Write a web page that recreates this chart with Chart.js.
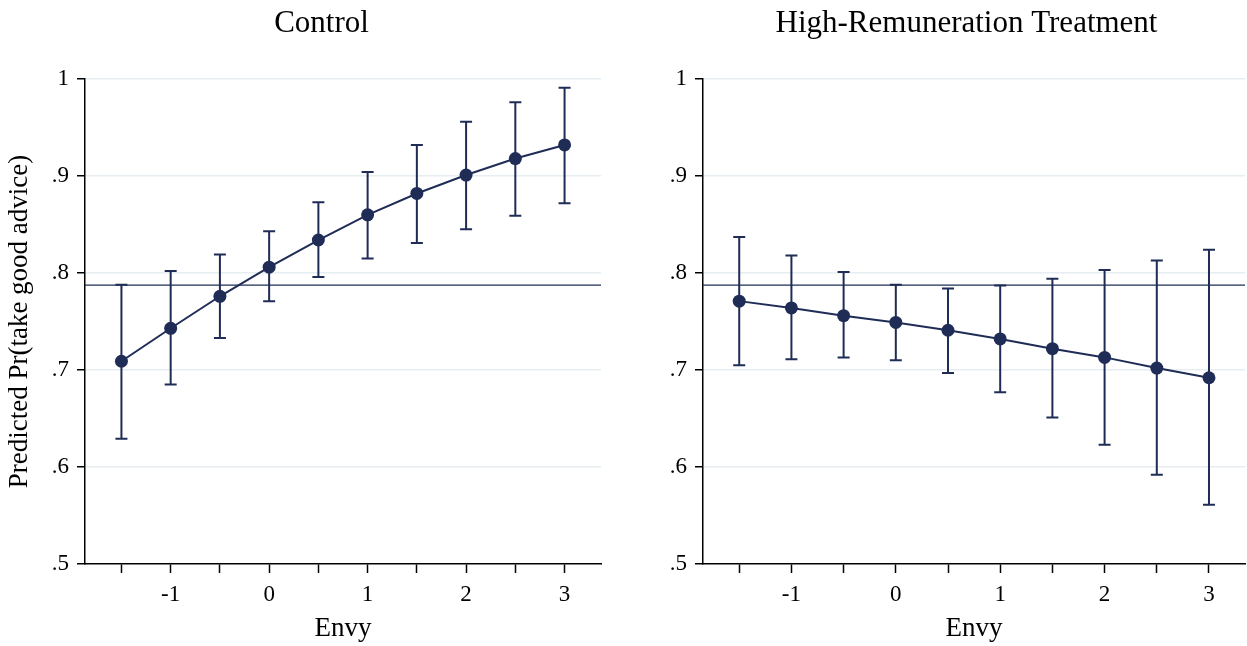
<!DOCTYPE html>
<html>
<head>
<meta charset="utf-8">
<script src="https://cdn.jsdelivr.net/npm/chart.js@4"></script>
<style>
  html, body { margin: 0; padding: 0; background: #fff; overflow: hidden; }
  canvas { position: absolute; top: 0; }
  #controlChart { left: 0; }
  #highChart { left: 640px; }
</style>
</head>
<body>
<canvas id="controlChart" width="643" height="646"></canvas>
<canvas id="highChart" width="653" height="646"></canvas>
<script>
// Envy values (x) shared by both panels
const envy = [-1.5, -1, -0.5, 0, 0.5, 1, 1.5, 2, 2.5, 3];
const xTickValues = [-1.5, -1, -0.5, 0, 0.5, 1, 1.5, 2, 2.5, 3];
const yTickValues = [0.5, 0.6, 0.7, 0.8, 0.9, 1];

// Control panel
const controlPred = [0.709, 0.743, 0.776, 0.806, 0.834, 0.860, 0.882, 0.901, 0.918, 0.932];
const controlLo = [0.629, 0.685, 0.733, 0.771, 0.796, 0.815, 0.831, 0.845, 0.859, 0.872];
const controlHi = [0.788, 0.802, 0.819, 0.843, 0.873, 0.904, 0.932, 0.956, 0.976, 0.991];

// High-remuneration panel
const highPred = [0.771, 0.764, 0.756, 0.749, 0.741, 0.732, 0.722, 0.713, 0.702, 0.692];
const highLo = [0.705, 0.711, 0.713, 0.710, 0.697, 0.677, 0.651, 0.623, 0.592, 0.561];
const highHi = [0.837, 0.818, 0.801, 0.788, 0.784, 0.787, 0.794, 0.803, 0.813, 0.824];

// overall average (horizontal line)
const avgLevel = 0.7875;

const navy = "#1f2c56";
const gridColor = "#e6eef1";
const serif = "'Liberation Serif', 'Times New Roman', serif";

Chart.defaults.font.family = serif;
Chart.defaults.color = "#000";

// draws the CI whiskers with caps, under the markers
const errorBars = {
  id: "errorBars",
  beforeDatasetsDraw(chart, args, opts) {
    const { ctx } = chart;
    const x = chart.scales.x;
    const y = chart.scales.y;
    ctx.save();
    ctx.strokeStyle = opts.color;
    ctx.lineWidth = opts.width;
    opts.xs.forEach((xv, i) => {
      const px = x.getPixelForValue(xv);
      const top = y.getPixelForValue(opts.hi[i]);
      const bot = y.getPixelForValue(opts.lo[i]);
      ctx.beginPath();
      ctx.moveTo(px, top);
      ctx.lineTo(px, bot);
      ctx.moveTo(px - opts.cap, top);
      ctx.lineTo(px + opts.cap, top);
      ctx.moveTo(px - opts.cap, bot);
      ctx.lineTo(px + opts.cap, bot);
      ctx.stroke();
    });
    ctx.restore();
  },
};

function makeConfig(title, pred, lo, hi, xMin, xMax, yWidth, rightGap, showYTitle) {
  return {
    type: "line",
    data: {
      datasets: [
        {
          data: envy.map((v, i) => ({ x: v, y: pred[i] })),
          borderColor: navy,
          borderWidth: 2,
          pointRadius: 6.5,
          pointBackgroundColor: navy,
          pointBorderWidth: 0,
          tension: 0,
        },
        {
          data: [
            { x: xMin, y: avgLevel },
            { x: xMax, y: avgLevel },
          ],
          borderColor: navy,
          borderWidth: 1.2,
          pointRadius: 0,
        },
      ],
    },
    options: {
      responsive: false,
      animation: false,
      layout: { padding: 0 },
      plugins: {
        legend: { display: false },
        tooltip: { enabled: false },
        title: {
          display: true,
          text: title,
          color: "#000",
          font: { family: serif, size: 31, weight: "normal" },
          padding: { top: 5, bottom: 36.8 },
        },
        errorBars: { xs: envy, lo: lo, hi: hi, color: navy, width: 2, cap: 6 },
      },
      scales: {
        x: {
          type: "linear",
          min: xMin,
          max: xMax,
          afterFit(scale) {
            scale.height = 82;
          },
          afterBuildTicks(scale) {
            scale.ticks = xTickValues.map((v) => ({ value: v }));
          },
          ticks: {
            padding: 8,
            font: { size: 23 },
            color: "#000",
            maxRotation: 0,
            autoSkip: false,
            callback: (v) => (Number.isInteger(v) ? String(v) : ""),
          },
          grid: {
            display: true,
            drawOnChartArea: false,
            drawTicks: true,
            tickLength: 9,
            tickColor: "#000",
            tickWidth: 1.5,
          },
          border: { display: true, color: "#000", width: 1.5 },
          title: {
            display: true,
            text: "Envy",
            color: "#000",
            font: { size: 27 },
            padding: { top: 0, bottom: 1 },
          },
        },
        y: {
          type: "linear",
          min: 0.5,
          max: 1,
          afterFit(scale) {
            scale.width = yWidth;
          },
          afterBuildTicks(scale) {
            scale.ticks = yTickValues.map((v) => ({ value: v }));
          },
          ticks: {
            padding: 8,
            font: { size: 23 },
            color: "#000",
            callback: (v) => (v === 1 ? "1" : v.toFixed(1).replace(/^0/, "")),
          },
          grid: {
            color: (c) => (c.tick && c.tick.value === 0.5 ? "rgba(0,0,0,0)" : gridColor),
            lineWidth: 1.5,
            drawTicks: true,
            tickLength: 8,
            tickColor: "#000",
            tickWidth: 1.5,
          },
          border: { display: true, color: "#000", width: 1.5 },
          title: {
            display: showYTitle,
            text: "Predicted Pr(take good advice)",
            color: "#000",
            font: { size: 27 },
            padding: { top: 4, bottom: 0 },
          },
        },
        // empty right-hand axis, only reserves the white margin so the title stays centred on the whole panel
        gap: {
          type: "linear",
          position: "right",
          afterFit(scale) {
            scale.width = rightGap;
          },
          ticks: { display: false },
          grid: { display: false },
          border: { display: false },
        },
      },
    },
    plugins: [errorBars],
  };
}

new Chart(
  document.getElementById("controlChart"),
  makeConfig("Control", controlPred, controlLo, controlHi, -1.87, 3.37, 85, 42, true)
);

new Chart(
  document.getElementById("highChart"),
  makeConfig("High-Remuneration Treatment", highPred, highLo, highHi, -1.847, 3.345, 63, 48, false)
);
</script>
</body>
</html>
